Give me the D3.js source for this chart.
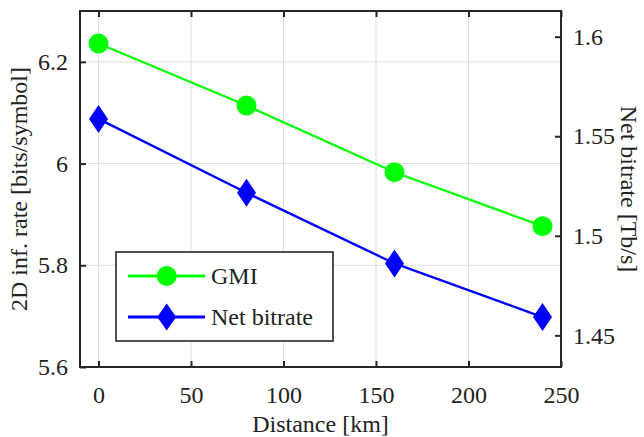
<!DOCTYPE html>
<html>
<head>
<meta charset="utf-8">
<script src="https://cdn.jsdelivr.net/npm/d3@7"></script>
<style>
  body { margin: 0; background: #fff; }
  svg { display: block; }
</style>
</head>
<body>
<svg></svg>
<script>
// distances along the link
const distances = [0, 80, 160, 240]
// GMI on left axis (bits/symbol)
const gmiValues = [6.236, 6.114, 5.983, 5.877]
// net bitrate on right axis (Tb/s)
const netValues = [1.5587, 1.5216, 1.4861, 1.4592]

const xTicks = [0, 50, 100, 150, 200, 250]
const leftTicks = [5.6, 5.8, 6, 6.2]
const rightTicks = [1.45, 1.5, 1.55, 1.6]

const width = 644
const height = 437
const margin = { left: 80, right: 83, top: 11, bottom: 70 }
const plotRight = width - margin.right
const plotBottom = height - margin.bottom
const fontSize = 24
const fontFamily = '"Liberation Serif", "Times New Roman", Times, serif'
const axisColor = '#262626'

const svg = d3.select('svg')
    .attr('width', width)
    .attr('height', height)
    .attr('font-family', fontFamily)

const xScale = d3.scaleLinear()
    .domain([-10, 250])
    .range([margin.left, plotRight])

const yLeft = d3.scaleLinear()
    .domain([5.6, 6.3])
    .range([plotBottom, margin.top])

const yRight = d3.scaleLinear()
    .domain([1.4341, 1.6129])
    .range([plotBottom, margin.top])

// grid
svg.append('g')
    .selectAll('line')
    .data(xTicks.filter(d => d < 250))
    .enter()
    .append('line')
    .attr('x1', d => xScale(d))
    .attr('x2', d => xScale(d))
    .attr('y1', margin.top)
    .attr('y2', plotBottom)
    .attr('stroke', '#dedede')
    .attr('stroke-width', 1)

svg.append('g')
    .selectAll('line')
    .data(leftTicks.filter(d => d > 5.6))
    .enter()
    .append('line')
    .attr('x1', margin.left)
    .attr('x2', plotRight)
    .attr('y1', d => yLeft(d))
    .attr('y2', d => yLeft(d))
    .attr('stroke', '#dedede')
    .attr('stroke-width', 1)

// axes, ticks point inward
let styleAxis = (g) => {
    g.attr('font-family', fontFamily).attr('font-size', fontSize)
    g.select('.domain').remove()
    g.selectAll('.tick line').attr('stroke', axisColor).attr('stroke-width', 2)
    g.selectAll('.tick text').attr('fill', '#222')
}

svg.append('g')
    .attr('transform', 'translate(0,' + plotBottom + ')')
    .call(d3.axisBottom(xScale).tickValues(xTicks).tickSize(-6).tickPadding(19))
    .call(styleAxis)

svg.append('g')
    .attr('transform', 'translate(0,' + margin.top + ')')
    .call(d3.axisTop(xScale).tickValues(xTicks).tickSize(-6).tickFormat(''))
    .call(styleAxis)

svg.append('g')
    .attr('transform', 'translate(' + margin.left + ',0)')
    .call(d3.axisLeft(yLeft).tickValues(leftTicks).tickSize(-6).tickPadding(12).tickFormat(d3.format('')))
    .call(styleAxis)

svg.append('g')
    .attr('transform', 'translate(' + plotRight + ',0)')
    .call(d3.axisRight(yRight).tickValues(rightTicks).tickSize(-6).tickPadding(12).tickFormat(d3.format('')))
    .call(styleAxis)

// frame
svg.append('rect')
    .attr('x', margin.left)
    .attr('y', margin.top)
    .attr('width', plotRight - margin.left)
    .attr('height', plotBottom - margin.top)
    .attr('fill', 'none')
    .attr('stroke', axisColor)
    .attr('stroke-width', 2)

// series
const gmiPoints = distances.map((d, i) => [xScale(d), yLeft(gmiValues[i])])
const netPoints = distances.map((d, i) => [xScale(d), yRight(netValues[i])])

let diamond = (cx, cy, hw, hh) =>
    'M' + cx + ',' + (cy - hh) + 'L' + (cx + hw) + ',' + cy + 'L' + cx + ',' + (cy + hh) + 'L' + (cx - hw) + ',' + cy + 'Z'

svg.append('path')
    .attr('d', d3.line()(gmiPoints))
    .attr('fill', 'none')
    .attr('stroke', '#00ff00')
    .attr('stroke-width', 2.2)

svg.append('path')
    .attr('d', d3.line()(netPoints))
    .attr('fill', 'none')
    .attr('stroke', '#0000ff')
    .attr('stroke-width', 2.4)

svg.selectAll('circle.gmi')
    .data(gmiPoints)
    .enter()
    .append('circle')
    .attr('class', 'gmi')
    .attr('cx', d => d[0])
    .attr('cy', d => d[1])
    .attr('r', 10)
    .attr('fill', '#00ff00')

svg.selectAll('path.net')
    .data(netPoints)
    .enter()
    .append('path')
    .attr('class', 'net')
    .attr('d', d => diamond(d[0], d[1], 9.5, 14))
    .attr('fill', '#0000ff')

// legend
const legend = svg.append('g')
legend.append('rect')
    .attr('x', 116)
    .attr('y', 252)
    .attr('width', 217)
    .attr('height', 89)
    .attr('fill', '#fff')
    .attr('stroke', axisColor)
    .attr('stroke-width', 1.6)

const legendItems = [
    { name: 'GMI', color: '#00ff00', y: 276 },
    { name: 'Net bitrate', color: '#0000ff', y: 317 }
]
legendItems.forEach((item, i) => {
    legend.append('line')
        .attr('x1', 128).attr('x2', 205)
        .attr('y1', item.y).attr('y2', item.y)
        .attr('stroke', item.color)
        .attr('stroke-width', 3.2)
    if (i === 0) {
        legend.append('circle').attr('cx', 166.7).attr('cy', item.y).attr('r', 10).attr('fill', item.color)
    } else {
        legend.append('path').attr('d', diamond(166.7, item.y, 9.5, 13.5)).attr('fill', item.color)
    }
    legend.append('text')
        .attr('x', 211)
        .attr('y', item.y)
        .attr('dy', '0.35em')
        .attr('fill', '#222')
        .attr('font-size', fontSize)
        .text(item.name)
})

// axis labels
let label = (txt) => svg.append('text')
    .attr('text-anchor', 'middle')
    .attr('fill', '#222')
    .attr('font-size', fontSize)
    .text(txt)

label('Distance [km]')
    .attr('x', (margin.left + plotRight) / 2)
    .attr('y', 432)

label('2D inf. rate [bits/symbol]')
    .attr('transform', 'translate(27,' + (margin.top + plotBottom) / 2 + ') rotate(-90)')

label('Net bitrate [Tb/s]')
    .attr('transform', 'translate(621,' + (margin.top + plotBottom) / 2 + ') rotate(90)')
</script>
</body>
</html>
